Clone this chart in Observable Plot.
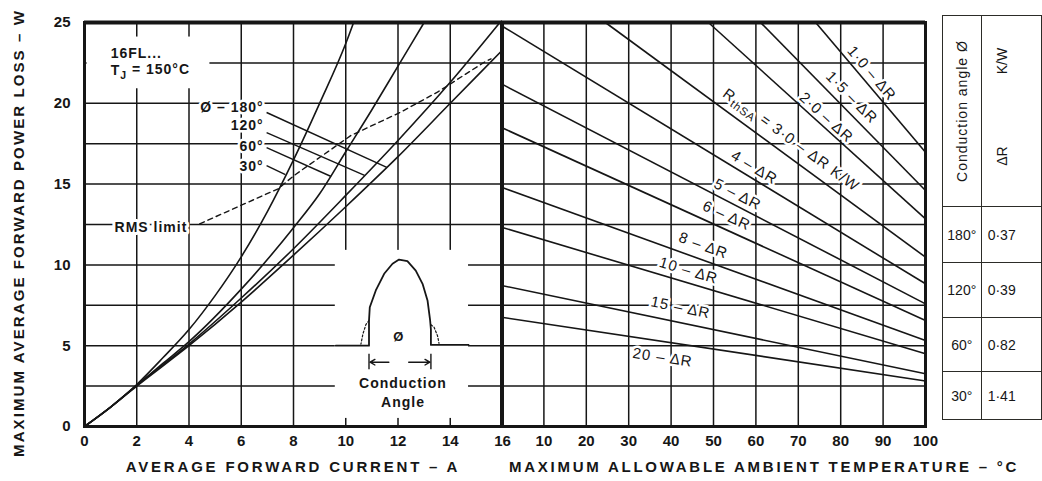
<!DOCTYPE html>
<html>
<head>
<meta charset="utf-8">
<script src="https://cdn.jsdelivr.net/npm/d3@7"></script>
<script src="https://cdn.jsdelivr.net/npm/@observablehq/plot@0.6"></script>
<style>
  body { margin: 0; background: #fff; }
  #wrap { position: relative; width: 1042px; height: 481px; overflow: hidden; background: #fff;
          font-family: "Liberation Sans", Arial, Helvetica, sans-serif; color: #161616; }
  #wrap svg text { paint-order: stroke; }
  #wrap svg g[aria-label="text"] text { letter-spacing: 1px; }
  .ttl { position: absolute; white-space: nowrap; font-weight: bold; font-size: 15px; transform: translate(-50%, -50%); }
  table.ca { position: absolute; left: 942px; top: 15px; border-collapse: collapse; font-size: 14px; }
  table.ca td { border: 1.6px solid #2c2c28; padding: 0; }
</style>
</head>
<body>
<div id="wrap"></div>
<script>
// ---------------- data ----------------
const currentTicks = [0, 2, 4, 6, 8, 10, 12, 14, 16];
const currentGrid = [2, 4, 6, 8, 10, 12, 14];
const lossTicks = [0, 5, 10, 15, 20, 25];
const lossGrid = [2.5, 5, 7.5, 10, 12.5, 15, 17.5, 20, 22.5];
const tempTicks = [10, 20, 30, 40, 50, 60, 70, 80, 90, 100];
const tempGrid = [10, 20, 30, 40, 50, 60, 70, 80, 90];

// power loss curves per conduction angle (A, W)
const current30 = [0, 1, 2, 3, 4, 5, 6, 7, 8, 9, 10, 10.3];
const loss30 = [0, 1.2, 2.6, 4.25, 6.0, 8.1, 10.5, 13.3, 16.5, 20.0, 23.7, 25];
const current60 = [0, 1, 2, 3, 4, 6, 8, 9, 10, 11, 12, 13];
const loss60 = [0, 1.2, 2.55, 3.9, 5.25, 8.5, 12.3, 14.4, 17.0, 19.6, 22.3, 25];
const current120 = [0, 1, 2, 4, 6, 8, 10, 12, 14, 15.9];
const loss120 = [0, 1.2, 2.55, 5.1, 7.95, 11.0, 14.3, 17.7, 21.3, 25];
const current180 = [0, 1, 2, 4, 6, 8, 10, 12, 14, 16];
const loss180 = [0, 1.2, 2.5, 5.0, 7.7, 10.6, 13.6, 16.7, 20.0, 23.3];

// RMS limit (dashed)
const rmsCurrent = [4.41, 7.41, 8.02, 10.19, 12.1, 13.51, 15.3, 15.56];
const rmsLoss = [12.54, 14.71, 15.53, 18.0, 19.45, 20.69, 22.54, 22.75];

// conduction angle labels and leaders
const angleLabels = ["Ø – 180°", "120°", "60°", "30°"];
const angleLabelLoss = [19.74, 18.63, 17.35, 16.1];
const angleLabelCurrent = [6.86, 6.86, 6.86, 6.86];
const leaderStartCurrent = [6.97, 6.97, 6.97, 6.97];
const leaderStartLoss = [19.43, 18.19, 17.26, 16.15];
const leaderEndCurrent = [11.57, 10.72, 9.44, 7.69];
const leaderEndLoss = [16.03, 15.54, 15.47, 15.59];

// inset waveform (drawn in A/W coordinates)
const waveCurrent = [9.62, 10.89, 10.89, 10.92, 11.15, 11.47, 11.79, 12.04, 12.36, 12.68, 12.94, 13.13, 13.23, 13.26, 13.26, 14.7];
const waveLoss = [5.0, 5.0, 6.56, 7.38, 8.42, 9.45, 10.07, 10.33, 10.23, 9.65, 8.83, 7.8, 6.56, 6.0, 5.05, 5.05];
const tailLeftCurrent = [10.89, 10.77, 10.66, 10.58];
const tailLeftLoss = [6.56, 6.3, 5.74, 5.1];
const tailRightCurrent = [13.26, 13.38, 13.51, 13.57];
const tailRightLoss = [6.3, 6.14, 5.63, 5.15];
const insetBoxCurrent = [9.6, 14.7];
const insetBoxLoss = [0.5, 10.9];
const noteBoxCurrent = [0.1, 4.8];
const noteBoxLoss = [20.9, 24.1];

// derating lines: R_thSA (K/W)
const rthLabels = ["1·0 – ΔR", "1·5 – ΔR", "2·0 – ΔR", "RthSA = 3·0 – ΔR K/W", "4 – ΔR", "5 – ΔR", "6 – ΔR", "8 – ΔR", "10 – ΔR", "15 – ΔR", "20 – ΔR"];
const rthStartTemp = [74.1, 61.1, 48.8, 24.5, 0, 0, 0, 0, 0, 0, 0];
const rthStartLoss = [25, 25, 25, 25, 24.8, 21.2, 18.5, 14.8, 12.33, 8.73, 6.76];
const rthEndTemp = [100, 100, 100, 100, 100, 100, 100, 100, 100, 100, 100];
const rthEndLoss = [16.97, 14.6, 12.85, 10.48, 8.83, 7.59, 6.56, 5.32, 4.5, 3.26, 2.82];
const rthLabelTemp = [87.3, 82.6, 76.6, 68.2, 59.6, 55.7, 53.1, 47.6, 44.1, 42.2, 38.0];
const rthLabelLoss = [21.85, 20.36, 19.12, 17.7, 16.03, 14.36, 13.05, 11.2, 9.65, 7.36, 4.27];

// table
const tableAngles = ["180°", "120°", "60°", "30°"];
const tableDeltaR = ["0·37", "0·39", "0·82", "1·41"];

// ---------------- helpers ----------------
const ink = "#161616";
const font = '"Liberation Sans", Arial, Helvetica, sans-serif';
const pts = (xs, ys, k) => xs.map((x, i) => ({x, y: ys[i], k}));
const curves = [
  ...pts(current30, loss30, "30"), ...pts(current60, loss60, "60"),
  ...pts(current120, loss120, "120"), ...pts(current180, loss180, "180")
];
const leaders = angleLabels.map((t, i) => ({x1: leaderStartCurrent[i], y1: leaderStartLoss[i], x2: leaderEndCurrent[i], y2: leaderEndLoss[i]}));
const labelsL = angleLabels.map((t, i) => ({t, x: angleLabelCurrent[i], y: angleLabelLoss[i]}));

const wrap = document.getElementById("wrap");

// ---------------- left panel ----------------
const LW = 505, LH = 481, LML = 84, LMR = 3, LMT = 22, LMB = 55;
const left = Plot.plot({
  width: LW, height: LH, marginLeft: LML, marginRight: LMR, marginTop: LMT, marginBottom: LMB,
  style: {fontFamily: font, fontSize: "15px", fontWeight: "bold", color: ink, background: "transparent", overflow: "visible"},
  x: {domain: [0, 16], ticks: currentTicks, tickSize: 0, tickPadding: 9, label: null},
  y: {domain: [0, 25], ticks: lossTicks, tickSize: 0, tickPadding: 14, label: null},
  marks: [
    Plot.ruleX(currentGrid, {stroke: ink, strokeWidth: 1.5}),
    Plot.ruleY(lossGrid, {stroke: ink, strokeWidth: 1.5}),
    Plot.rect([0], {x1: () => insetBoxCurrent[0], x2: () => insetBoxCurrent[1], y1: () => insetBoxLoss[0], y2: () => insetBoxLoss[1], fill: "white"}),
    Plot.rect([0], {x1: () => noteBoxCurrent[0], x2: () => noteBoxCurrent[1], y1: () => noteBoxLoss[0], y2: () => noteBoxLoss[1], fill: "white"}),
    Plot.line(curves, {x: "x", y: "y", z: "k", stroke: ink, strokeWidth: 1.6, curve: "monotone-x"}),
    Plot.line(pts(rmsCurrent, rmsLoss), {x: "x", y: "y", stroke: ink, strokeWidth: 1.4, strokeDasharray: "5,4"}),
    Plot.link(leaders, {x1: "x1", y1: "y1", x2: "x2", y2: "y2", stroke: ink, strokeWidth: 1.4}),
    Plot.line(pts(waveCurrent, waveLoss), {x: "x", y: "y", stroke: ink, strokeWidth: 1.8, curve: "linear"}),
    Plot.line(pts(tailLeftCurrent, tailLeftLoss), {x: "x", y: "y", stroke: ink, strokeWidth: 1.2, strokeDasharray: "2,2"}),
    Plot.line(pts(tailRightCurrent, tailRightLoss), {x: "x", y: "y", stroke: ink, strokeWidth: 1.2, strokeDasharray: "2,2"}),
    Plot.link([waveCurrent[2], waveCurrent[13]], {x1: d => d, x2: d => d, y1: 3.55, y2: 4.5, stroke: ink, strokeWidth: 1.4}),
    Plot.arrow([0], {x1: 11.65, y1: 3.98, x2: 10.93, y2: 3.98, stroke: ink, strokeWidth: 1.4, headLength: 6, bend: false}),
    Plot.arrow([0], {x1: 12.41, y1: 3.98, x2: 13.22, y2: 3.98, stroke: ink, strokeWidth: 1.4, headLength: 6, bend: false}),
    Plot.text(["Ø"], {x: 12.03, y: 5.53, text: d => d, fontSize: 13, fontWeight: "bold", fill: ink}),
    Plot.text(["Conduction", "Angle"], {x: 12.19, y: (d, i) => [2.64, 1.5][i], text: d => d, fontSize: 14, fontWeight: "bold", fill: ink}),
    Plot.text(["16FL...", "TJ = 150°C"], {x: 1.0, y: (d, i) => [23.06, 22.0][i], text: d => d, textAnchor: "start", fontSize: 14, fontWeight: "bold", fill: ink}),
    Plot.text(["RMS limit"], {x: 1.15, y: 12.3, text: d => d, textAnchor: "start", fontSize: 14, fontWeight: "bold", fill: ink, stroke: "white", strokeWidth: 6}),
    Plot.text(labelsL, {x: "x", y: "y", text: "t", textAnchor: "end", fontSize: 14, fontWeight: "bold", fill: ink, stroke: "white", strokeWidth: 5}),
    Plot.ruleY([25], {stroke: ink, strokeWidth: 4}),
    Plot.frame({stroke: ink, strokeWidth: 3})
  ]
});
left.style.position = "absolute"; left.style.left = "0px"; left.style.top = "0px";
wrap.appendChild(left);

// ---------------- right panel ----------------
const RW = 440, RML = 6, RMR = 10;
const pxPerT = (RW - RML - RMR) / 100;
const pxPerW = (LH - LMT - LMB) / 25;
const rth = rthLabels.map((t, i) => ({
  t, x1: rthStartTemp[i], y1: rthStartLoss[i], x2: rthEndTemp[i], y2: rthEndLoss[i],
  lx: rthLabelTemp[i], ly: rthLabelLoss[i],
  a: Math.atan2((rthStartLoss[i] - rthEndLoss[i]) * pxPerW, (rthEndTemp[i] - rthStartTemp[i]) * pxPerT) * 180 / Math.PI
}));
const right = Plot.plot({
  width: RW, height: LH, marginLeft: RML, marginRight: RMR, marginTop: LMT, marginBottom: LMB,
  style: {fontFamily: font, fontSize: "15px", fontWeight: "bold", color: ink, background: "transparent", overflow: "visible"},
  x: {domain: [0, 100], ticks: tempTicks, tickSize: 0, tickPadding: 9, label: null},
  y: {domain: [0, 25], axis: null},
  marks: [
    Plot.ruleX(tempGrid, {stroke: ink, strokeWidth: 1.5}),
    Plot.ruleY(lossGrid, {stroke: ink, strokeWidth: 1.5}),
    Plot.link(rth, {x1: "x1", y1: "y1", x2: "x2", y2: "y2", stroke: ink, strokeWidth: 1.6}),
    Plot.text(rth, {x: "lx", y: "ly", text: "t", rotate: "a", fontSize: 15, fontWeight: "normal", fill: ink, stroke: "white", strokeWidth: 5}),
    Plot.ruleY([25], {stroke: ink, strokeWidth: 4}),
    Plot.frame({stroke: ink, strokeWidth: 3})
  ]
});
right.style.position = "absolute"; right.style.left = (501 - RML) + "px"; right.style.top = "0px";
wrap.appendChild(right);

// subscripts
function subscript(svg, starts, base, sub, rest) {
  d3.select(svg).selectAll("text").filter(function () { return this.textContent === starts; }).each(function () {
    const t = d3.select(this); t.text("");
    t.append("tspan").text(base);
    t.append("tspan").attr("dy", "0.3em").attr("font-size", "0.75em").text(sub);
    t.append("tspan").attr("dy", "-0.3em").text(rest);
  });
}
subscript(right, "RthSA = 3·0 – ΔR K/W", "R", "thSA", " = 3·0 – ΔR K/W");
subscript(left, "TJ = 150°C", "T", "J", " = 150°C");

// ---------------- titles ----------------
function title(text, x, y, rot, ls) {
  const d = document.createElement("div");
  d.className = "ttl"; d.textContent = text;
  d.style.left = x + "px"; d.style.top = y + "px"; d.style.letterSpacing = ls + "px";
  if (rot) d.style.transform = "translate(-50%, -50%) rotate(-90deg)";
  wrap.appendChild(d);
}
title("AVERAGE FORWARD CURRENT – A", 293, 466, false, 2.8);
title("MAXIMUM ALLOWABLE AMBIENT TEMPERATURE – °C", 764, 466, false, 2.75);
title("MAXIMUM AVERAGE FORWARD POWER LOSS – W", 18, 233, true, 2.1);

// ---------------- table ----------------
const rowH = [56, 55, 54, 48];
const tbl = d3.select(wrap).append("table").attr("class", "ca");
const hr = tbl.append("tr");
hr.append("td").style("width", "55px").style("height", "190px").style("position", "relative")
  .append("div").style("position", "absolute").style("left", "50%").style("top", "95px")
  .style("transform", "translate(-50%,-50%) rotate(-90deg)").style("white-space", "nowrap")
  .style("letter-spacing", "1px").text("Conduction angle Ø");
const h2 = hr.append("td").style("width", "110px").style("position", "relative");
h2.append("div").style("position", "absolute").style("left", "20px").style("top", "45px")
  .style("transform", "translate(-50%,-50%) rotate(-90deg)").style("white-space", "nowrap").text("K/W");
h2.append("div").style("position", "absolute").style("left", "20px").style("top", "140px")
  .style("transform", "translate(-50%,-50%) rotate(-90deg)").style("white-space", "nowrap").text("ΔR");
tableAngles.forEach((a, i) => {
  const r = tbl.append("tr").style("height", rowH[i] + "px");
  r.append("td").style("text-align", "center").text(a);
  r.append("td").style("padding-left", "6px").text(tableDeltaR[i]);
});
</script>
</body>
</html>
